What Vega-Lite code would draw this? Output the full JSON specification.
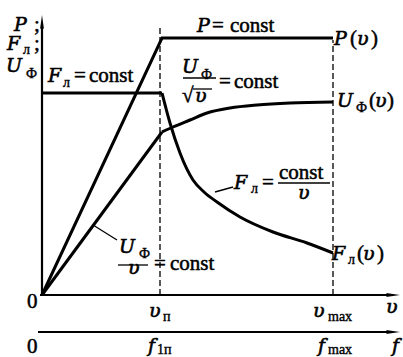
{
  "$schema": "https://vega.github.io/schema/vega-lite/v6.json",
  "width": 403,
  "height": 357,
  "autosize": {"type": "none"},
  "padding": 0,
  "background": "white",
  "config": {"view": {"stroke": null}},
  "datasets": {
    "guides": [
      {"x": 118, "y": 0, "y2": 270},
      {"x": 291, "y": 0, "y2": 255}
    ],
    "axes": [
      {"x": 0, "y": 0, "x2": 0, "y2": 268},
      {"x": -2, "y": 0, "x2": 348, "y2": 0},
      {"x": -4, "y": -37, "x2": 348, "y2": -37}
    ],
    "thin": [
      {"x": 51, "y": 70, "x2": 75, "y2": 55},
      {"x": 173, "y": 103, "x2": 191, "y2": 108},
      {"x": 141, "y": 217, "x2": 174, "y2": 217},
      {"x": 151, "y": 206, "x2": 170, "y2": 206},
      {"x": 236, "y": 112, "x2": 288, "y2": 112},
      {"x": 76, "y": 30, "x2": 106, "y2": 30}
    ],
    "arrows": [
      {"x": 0, "y": 273, "dir": "up"},
      {"x": 351, "y": 0, "dir": "right"},
      {"x": 351, "y": -37, "dir": "right"}
    ],
    "lines": [
      {"series": "P", "x": 0, "y": 0},
      {"series": "P", "x": 120, "y": 257},
      {"series": "P", "x": 291, "y": 257},
      {"series": "Fflat", "x": 0, "y": 202},
      {"series": "Fflat", "x": 120, "y": 202},
      {"series": "Uline", "x": 0, "y": 0},
      {"series": "Uline", "x": 120, "y": 163}
    ],
    "curves": [
      {"series": "F", "x": 120, "y": 202},
      {"series": "F", "x": 128, "y": 172},
      {"series": "F", "x": 138, "y": 142},
      {"series": "F", "x": 151, "y": 115},
      {"series": "F", "x": 162, "y": 103},
      {"series": "F", "x": 175, "y": 93},
      {"series": "F", "x": 198, "y": 78},
      {"series": "F", "x": 231, "y": 63},
      {"series": "F", "x": 265, "y": 52},
      {"series": "F", "x": 291, "y": 42},
      {"series": "U", "x": 120, "y": 163},
      {"series": "U", "x": 131, "y": 168},
      {"series": "U", "x": 148, "y": 175},
      {"series": "U", "x": 165, "y": 182},
      {"series": "U", "x": 188, "y": 187},
      {"series": "U", "x": 215, "y": 190},
      {"series": "U", "x": 248, "y": 192},
      {"series": "U", "x": 291, "y": 193}
    ],
    "labels": [
      {"t": "P", "x": -28, "y": 264, "role": "it"},
      {"t": ";", "x": -8, "y": 264, "role": "rm"},
      {"t": "F", "x": -35, "y": 245, "role": "it"},
      {"t": "л", "x": -19, "y": 241, "role": "sub"},
      {"t": ";", "x": -8, "y": 245, "role": "rm"},
      {"t": "U", "x": -36, "y": 223, "role": "it"},
      {"t": "Ф", "x": -16, "y": 217, "role": "sub"},
      {"t": "F", "x": 6, "y": 213, "role": "it"},
      {"t": "л", "x": 21, "y": 208, "role": "sub"},
      {"t": "=", "x": 32, "y": 213, "role": "rm"},
      {"t": "const", "x": 47, "y": 213, "role": "rm"},
      {"t": "P", "x": 155, "y": 263, "role": "it"},
      {"t": "=", "x": 170, "y": 263, "role": "rm"},
      {"t": "const", "x": 188, "y": 263, "role": "rm"},
      {"t": "P", "x": 292, "y": 250, "role": "it"},
      {"t": "(", "x": 308, "y": 250, "role": "rm"},
      {"t": "υ", "x": 315, "y": 250, "role": "it"},
      {"t": ")", "x": 329, "y": 250, "role": "rm"},
      {"t": "U", "x": 140, "y": 222, "role": "it"},
      {"t": "Ф", "x": 159, "y": 216, "role": "sub"},
      {"t": "√", "x": 140, "y": 193, "role": "rm"},
      {"t": "υ", "x": 153, "y": 193, "role": "it"},
      {"t": "=", "x": 177, "y": 207, "role": "rm"},
      {"t": "const", "x": 192, "y": 207, "role": "rm"},
      {"t": "U", "x": 295, "y": 188, "role": "it"},
      {"t": "Ф", "x": 314, "y": 183, "role": "sub"},
      {"t": "(", "x": 327, "y": 188, "role": "rm"},
      {"t": "υ", "x": 333, "y": 188, "role": "it"},
      {"t": ")", "x": 345, "y": 188, "role": "rm"},
      {"t": "F", "x": 192, "y": 106, "role": "it"},
      {"t": "л", "x": 209, "y": 102, "role": "sub"},
      {"t": "=", "x": 220, "y": 106, "role": "rm"},
      {"t": "const", "x": 237, "y": 116, "role": "rm"},
      {"t": "υ", "x": 256, "y": 96, "role": "it"},
      {"t": "F", "x": 290, "y": 35, "role": "it"},
      {"t": "л", "x": 306, "y": 31, "role": "sub"},
      {"t": "(", "x": 315, "y": 35, "role": "rm"},
      {"t": "υ", "x": 321, "y": 35, "role": "it"},
      {"t": ")", "x": 335, "y": 35, "role": "rm"},
      {"t": "U", "x": 77, "y": 42, "role": "it"},
      {"t": "Ф", "x": 97, "y": 37, "role": "sub"},
      {"t": "υ", "x": 86, "y": 21, "role": "it"},
      {"t": "=", "x": 112, "y": 25, "role": "rm"},
      {"t": "const", "x": 128, "y": 25, "role": "rm"},
      {"t": "0", "x": -15, "y": -13, "role": "rm"},
      {"t": "υ", "x": 107, "y": -22, "role": "it"},
      {"t": "п", "x": 121, "y": -26, "role": "sub"},
      {"t": "υ", "x": 271, "y": -22, "role": "it"},
      {"t": "max", "x": 286, "y": -26, "role": "sub"},
      {"t": "υ", "x": 344, "y": -18, "role": "it"},
      {"t": "0", "x": -15, "y": -58, "role": "rm"},
      {"t": "f", "x": 106, "y": -57, "role": "it"},
      {"t": "1п", "x": 115, "y": -59, "role": "sub"},
      {"t": "f", "x": 276, "y": -57, "role": "it"},
      {"t": "max", "x": 286, "y": -59, "role": "sub"},
      {"t": "f", "x": 350, "y": -57, "role": "it"}
    ]
  },
  "layer": [
    {
      "data": {"name": "guides"},
      "mark": {"type": "rule", "color": "black", "strokeWidth": 1.3, "strokeDash": [6, 3]},
      "encoding": {
        "x": {"field": "x", "type": "quantitative", "scale": {"domain": [-42, 361], "nice": false, "zero": false}, "axis": null},
        "y": {"field": "y", "type": "quantitative", "scale": {"domain": [-62, 295], "nice": false, "zero": false}, "axis": null},
        "y2": {"field": "y2"}
      }
    },
    {
      "data": {"name": "axes"},
      "mark": {"type": "rule", "color": "black", "strokeWidth": 2.2},
      "encoding": {
        "x": {"field": "x", "type": "quantitative", "scale": {"domain": [-42, 361], "nice": false, "zero": false}, "axis": null},
        "y": {"field": "y", "type": "quantitative", "scale": {"domain": [-62, 295], "nice": false, "zero": false}, "axis": null},
        "x2": {"field": "x2"},
        "y2": {"field": "y2"}
      }
    },
    {
      "data": {"name": "thin"},
      "mark": {"type": "rule", "color": "black", "strokeWidth": 1.3},
      "encoding": {
        "x": {"field": "x", "type": "quantitative", "scale": {"domain": [-42, 361], "nice": false, "zero": false}, "axis": null},
        "y": {"field": "y", "type": "quantitative", "scale": {"domain": [-62, 295], "nice": false, "zero": false}, "axis": null},
        "x2": {"field": "x2"},
        "y2": {"field": "y2"}
      }
    },
    {
      "data": {"name": "arrows"},
      "mark": {"type": "point", "filled": true, "color": "black", "opacity": 1, "size": 196, "strokeWidth": 0},
      "encoding": {
        "x": {"field": "x", "type": "quantitative", "scale": {"domain": [-42, 361], "nice": false, "zero": false}, "axis": null},
        "y": {"field": "y", "type": "quantitative", "scale": {"domain": [-62, 295], "nice": false, "zero": false}, "axis": null},
        "shape": {"field": "dir", "type": "nominal", "scale": {"domain": ["up", "right"], "range": ["M0,-1L0.28,1L0,0.75L-0.28,1Z", "M1,0L-1,0.28L-0.75,0L-1,-0.28Z"]}, "legend": null}
      }
    },
    {
      "data": {"name": "lines"},
      "mark": {"type": "line", "color": "black", "strokeWidth": 3, "strokeJoin": "miter", "strokeCap": "butt"},
      "encoding": {
        "x": {"field": "x", "type": "quantitative", "scale": {"domain": [-42, 361], "nice": false, "zero": false}, "axis": null},
        "y": {"field": "y", "type": "quantitative", "scale": {"domain": [-62, 295], "nice": false, "zero": false}, "axis": null},
        "detail": {"field": "series", "type": "nominal"}
      }
    },
    {
      "data": {"name": "curves"},
      "mark": {"type": "line", "color": "black", "strokeWidth": 3, "interpolate": "monotone", "strokeCap": "butt"},
      "encoding": {
        "x": {"field": "x", "type": "quantitative", "scale": {"domain": [-42, 361], "nice": false, "zero": false}, "axis": null},
        "y": {"field": "y", "type": "quantitative", "scale": {"domain": [-62, 295], "nice": false, "zero": false}, "axis": null},
        "detail": {"field": "series", "type": "nominal"}
      }
    },
    {
      "data": {"name": "labels"},
      "transform": [{"filter": "datum.role == 'it'"}],
      "mark": {"type": "text", "align": "left", "baseline": "alphabetic", "font": "DejaVu Serif", "fontSize": 19, "fontStyle": "italic", "fill": "black", "stroke": "black", "strokeWidth": 0.6},
      "encoding": {
        "x": {"field": "x", "type": "quantitative", "scale": {"domain": [-42, 361], "nice": false, "zero": false}, "axis": null},
        "y": {"field": "y", "type": "quantitative", "scale": {"domain": [-62, 295], "nice": false, "zero": false}, "axis": null},
        "text": {"field": "t"}
      }
    },
    {
      "data": {"name": "labels"},
      "transform": [{"filter": "datum.role == 'rm'"}],
      "mark": {"type": "text", "align": "left", "baseline": "alphabetic", "font": "Liberation Serif", "fontSize": 21, "fill": "black", "stroke": "black", "strokeWidth": 0.5},
      "encoding": {
        "x": {"field": "x", "type": "quantitative", "scale": {"domain": [-42, 361], "nice": false, "zero": false}, "axis": null},
        "y": {"field": "y", "type": "quantitative", "scale": {"domain": [-62, 295], "nice": false, "zero": false}, "axis": null},
        "text": {"field": "t"}
      }
    },
    {
      "data": {"name": "labels"},
      "transform": [{"filter": "datum.role == 'sub'"}],
      "mark": {"type": "text", "align": "left", "baseline": "alphabetic", "font": "Liberation Serif", "fontSize": 14, "fill": "black", "stroke": "black", "strokeWidth": 0.4},
      "encoding": {
        "x": {"field": "x", "type": "quantitative", "scale": {"domain": [-42, 361], "nice": false, "zero": false}, "axis": null},
        "y": {"field": "y", "type": "quantitative", "scale": {"domain": [-62, 295], "nice": false, "zero": false}, "axis": null},
        "text": {"field": "t"}
      }
    }
  ]
}
